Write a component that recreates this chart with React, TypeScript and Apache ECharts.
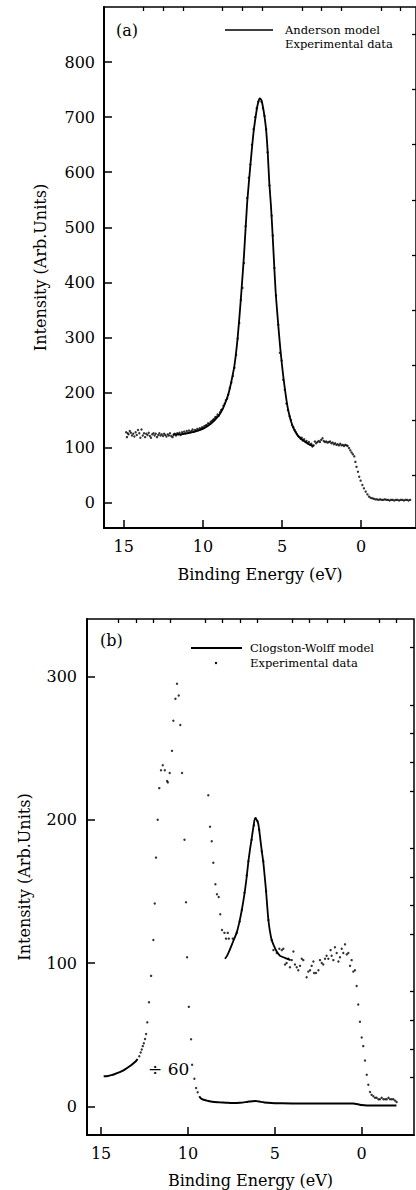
import React, { useEffect, useRef } from "react";
import * as echarts from "echarts";

const FONT = "DejaVu Serif";

// ---------- Panel (a) ----------
const aXMajor = [15, 10, 5, 0];
const aXMinor = [13.75, 12.5, 11.25, 8.75, 7.5, 6.25, 3.75, 2.5, 1.25, -1.25, -2.5];
const aYMajor = [0, 100, 200, 300, 400, 500, 600, 700, 800];
const aYMinor = [50, 150, 250, 350, 450, 550, 650, 750, 850];

const aModel: [number, number][] = [
  [11.9, 124], [11.5, 124], [11.0, 126], [10.5, 129], [10.0, 134], [9.5, 143], [9.0, 158], [8.8, 167],
  [8.6, 180], [8.4, 196], [8.2, 220], [8.0, 250], [7.8, 300], [7.6, 370], [7.4, 450], [7.2, 545],
  [7.0, 612], [6.8, 672], [6.6, 713], [6.5, 727], [6.4, 734], [6.3, 731], [6.2, 718], [6.1, 700],
  [6.0, 676], [5.9, 635], [5.8, 580], [5.7, 540], [5.6, 490], [5.5, 435], [5.4, 382], [5.3, 345],
  [5.2, 310], [5.1, 278], [5.0, 250], [4.9, 225], [4.8, 203], [4.7, 183], [4.6, 167], [4.5, 155],
  [4.4, 145], [4.3, 137], [4.2, 131], [4.0, 122], [3.8, 116], [3.6, 112], [3.4, 108], [3.2, 105], [3.0, 103],
];

const aExp: [number, number][] = [
  [14.85, 128], [14.8, 119], [14.75, 126], [14.7, 124], [14.62, 130], [14.55, 127], [14.48, 122], [14.4, 125],
  [14.33, 120], [14.25, 128], [14.18, 123], [14.1, 132], [14.02, 126], [13.95, 118], [13.88, 133], [13.8, 122],
  [13.72, 126], [13.65, 119], [13.58, 125], [13.5, 123], [13.42, 127], [13.35, 121], [13.28, 118], [13.2, 124],
  [13.12, 126], [13.05, 122], [12.98, 125], [12.9, 119], [12.82, 123], [12.75, 126], [12.68, 122], [12.6, 124],
  [12.52, 121], [12.45, 125], [12.38, 123], [12.3, 120], [12.22, 124], [12.15, 122], [12.08, 126], [12.0, 121],
  [11.92, 119], [11.85, 123], [11.78, 125], [11.7, 122], [11.62, 126], [11.55, 124], [11.48, 127], [11.4, 123],
  [11.32, 128], [11.25, 125], [11.18, 129], [11.1, 126], [11.02, 130], [10.95, 127], [10.88, 131], [10.8, 128],
  [10.72, 130], [10.65, 133], [10.58, 129], [10.5, 132], [10.42, 131], [10.35, 134], [10.27, 132], [10.2, 135],
  [10.12, 134], [10.05, 137], [9.97, 136], [9.9, 139], [9.82, 140], [9.75, 141], [9.67, 144], [9.6, 143],
  [9.52, 146], [9.45, 148], [9.37, 150], [9.3, 152], [9.22, 155], [9.15, 156], [9.07, 160], [9.0, 158],
  [8.92, 164], [8.85, 168], [8.77, 170], [8.7, 176], [8.62, 180], [8.55, 186], [8.47, 189], [8.4, 196],
  [8.3, 208], [8.2, 218], [8.1, 230], [8.0, 245], [7.9, 268], [7.8, 298], [7.7, 326], [7.6, 368],
  [7.5, 390], [7.4, 435], [7.3, 502], [7.2, 553], [7.1, 590], [7.0, 614], [6.9, 650], [6.8, 678],
  [6.7, 700], [6.6, 716], [6.5, 728], [6.41, 733], [6.3, 728], [6.2, 716], [6.1, 702], [6.0, 678],
  [5.91, 636], [5.79, 576], [5.65, 521], [5.58, 485], [5.48, 426], [5.38, 376], [5.23, 323], [5.13, 272],
  [5.02, 258], [4.92, 223], [4.82, 205], [4.72, 180], [4.62, 168], [4.52, 157], [4.44, 150], [4.36, 141],
  [4.28, 137], [4.2, 132], [4.12, 128], [4.05, 124], [3.98, 121], [3.9, 119], [3.82, 116], [3.75, 118],
  [3.68, 113], [3.6, 115], [3.52, 110], [3.45, 112], [3.38, 108], [3.3, 110], [3.22, 105], [3.15, 107],
  [3.08, 102], [3.0, 104], [2.92, 111], [2.84, 108], [2.76, 110], [2.68, 112], [2.6, 110], [2.52, 114],
  [2.44, 117], [2.36, 112], [2.28, 110], [2.2, 111], [2.12, 109], [2.04, 110], [1.96, 111], [1.88, 108],
  [1.8, 109], [1.72, 106], [1.64, 108], [1.56, 105], [1.48, 106], [1.4, 104], [1.32, 107], [1.24, 104],
  [1.16, 105], [1.08, 103], [1.0, 105], [0.92, 104], [0.85, 103], [0.76, 99], [0.68, 95], [0.6, 91],
  [0.52, 88], [0.43, 84], [0.36, 74], [0.29, 65], [0.2, 56], [0.12, 47], [0.03, 40], [-0.08, 32],
  [-0.18, 26], [-0.29, 20], [-0.4, 15], [-0.5, 11], [-0.6, 9], [-0.7, 8], [-0.8, 7], [-0.9, 6],
  [-1.0, 6], [-1.1, 5], [-1.2, 6], [-1.3, 5], [-1.4, 5], [-1.5, 6], [-1.6, 5], [-1.7, 5],
  [-1.8, 4], [-1.9, 5], [-2.0, 5], [-2.1, 4], [-2.2, 5], [-2.3, 5], [-2.4, 4], [-2.5, 5],
  [-2.6, 5], [-2.7, 4], [-2.8, 5], [-2.9, 5], [-3.0, 4], [-3.1, 5],
];

// ---------- Panel (b) ----------
const bXMajor = [15, 10, 5, 0];
const bXMinor = [14, 13, 12, 11, 9, 8, 7, 6, 4, 3, 2, 1, -1, -2];
const bYMajor = [0, 100, 200, 300];
const bYMinor = [20, 40, 60, 80, 120, 140, 160, 180, 220, 240, 260, 280, 320];

const bModel: [number, number][] = [
  [7.87, 103], [7.75, 105], [7.6, 109], [7.4, 115], [7.2, 121], [7.05, 128], [6.9, 137], [6.75, 148],
  [6.62, 160], [6.52, 171], [6.42, 180], [6.33, 187], [6.22, 196], [6.14, 201], [6.05, 200], [5.95, 197],
  [5.85, 188], [5.75, 178], [5.66, 170], [5.58, 160], [5.51, 151], [5.44, 140], [5.37, 130], [5.28, 122],
  [5.18, 116], [5.05, 112], [4.89, 108], [4.7, 105], [4.51, 104], [4.3, 103], [4.1, 102],
];

const bExp: [number, number][] = [
  [8.83, 217], [8.73, 195], [8.63, 185], [8.54, 170], [8.42, 155], [8.33, 148], [8.23, 146], [8.14, 134],
  [8.04, 123], [7.9, 121], [7.81, 117], [7.71, 121], [7.65, 117], [7.42, 117], [7.19, 121], [7.02, 129],
  [6.9, 137], [6.75, 149], [6.62, 161], [6.52, 171], [6.33, 186], [6.2, 196], [6.1, 201], [6.0, 199],
  [5.9, 193], [5.75, 178], [5.66, 171], [5.5, 150], [5.37, 130], [5.18, 116], [5.08, 109], [4.89, 107],
  [4.74, 110], [4.6, 109], [4.51, 110], [4.41, 99], [4.32, 100], [4.22, 103], [4.13, 97], [4.03, 102],
  [3.93, 108], [3.84, 99], [3.74, 97], [3.65, 95], [3.55, 98], [3.45, 103], [3.36, 102], [3.17, 90],
  [3.07, 94], [2.97, 95], [2.88, 98], [2.78, 101], [2.74, 93], [2.63, 93], [2.49, 95], [2.4, 102],
  [2.3, 100], [2.21, 99], [2.11, 103], [2.02, 105], [1.92, 103], [1.79, 109], [1.73, 105], [1.63, 102],
  [1.54, 111], [1.44, 107], [1.34, 101], [1.25, 104], [1.15, 110], [1.06, 107], [0.96, 113], [0.86, 106],
  [0.77, 107], [0.67, 98], [0.58, 102], [0.48, 94], [0.39, 95], [0.29, 84], [0.2, 71], [0.1, 59],
  [0.0, 48], [-0.09, 42], [-0.19, 32], [-0.29, 22], [-0.38, 15], [-0.48, 10], [-0.57, 8], [-0.67, 7],
  [-0.77, 6], [-0.86, 6], [-0.96, 5], [-1.05, 5], [-1.15, 6], [-1.25, 5], [-1.35, 5], [-1.44, 5],
  [-1.54, 6], [-1.63, 5], [-1.73, 5], [-1.82, 5], [-1.92, 4], [-2.01, 3],
];

// full spectrum divided by 60
const bDiv60Tail: [number, number][] = [
  [14.85, 21], [14.6, 21.2], [14.4, 21.8], [14.2, 22.6], [14.0, 23.5], [13.8, 24.6], [13.6, 26],
  [13.4, 27.6], [13.2, 29.4], [13.0, 31.5], [12.9, 33],
];
const bDiv60Peak: [number, number][] = [
  [12.8, 35], [12.72, 37.5], [12.66, 39.6], [12.6, 42], [12.54, 44], [12.47, 47], [12.41, 50.5],
  [12.34, 58.6], [12.24, 72.6], [12.12, 91], [11.99, 116], [11.91, 141.5], [11.84, 173.5], [11.74, 200],
  [11.65, 222], [11.55, 234.5], [11.45, 238], [11.33, 234.5], [11.2, 227], [11.16, 226], [11.05, 232.6],
  [10.92, 248], [10.84, 269], [10.72, 284.3], [10.63, 294.8], [10.53, 286.6], [10.44, 266], [10.34, 232.6],
  [10.2, 186], [10.11, 142.4], [10.05, 104], [9.95, 69.4], [9.82, 46.8], [9.76, 29], [9.63, 19.3],
  [9.53, 12.8], [9.44, 9.8],
];
const bDiv60Flat: [number, number][] = [
  [9.35, 7], [9.25, 5.5], [9.1, 4.6], [8.9, 4], [8.6, 3.2], [8.2, 2.8], [7.8, 2.5], [7.4, 2.3],
  [7.0, 2.5], [6.6, 3.1], [6.3, 3.6], [6.1, 3.7], [5.9, 3.3], [5.6, 2.7], [5.2, 2.3], [4.6, 2.1],
  [4.0, 2.0], [3.0, 2.0], [2.0, 2.0], [1.0, 2.0], [0.5, 1.9], [0.2, 1.4], [0.0, 0.9], [-0.3, 0.6],
  [-1.0, 0.5], [-2.0, 0.5],
];

const black = "#000";
const labelStyle = { fontFamily: FONT, fontSize: 16, color: black };

function mainAxis(gridIndex: number, min: number, max: number, major: number[], inverse: boolean, name: string, nameGap: number, margin: number, vertical: boolean) {
  return {
    type: "value",
    gridIndex,
    min,
    max,
    inverse,
    name,
    nameLocation: "middle",
    nameGap,
    nameRotate: vertical ? 90 : 0,
    nameTextStyle: { fontFamily: FONT, fontSize: 16, color: black },
    axisLine: { show: true, onZero: false, lineStyle: { color: black, width: 2 } },
    axisTick: { show: true, inside: true, length: 8, customValues: major, lineStyle: { color: black, width: 1.5 } },
    axisLabel: { show: true, customValues: major, margin, ...labelStyle },
    splitLine: { show: false },
  };
}
function minorAxis(gridIndex: number, min: number, max: number, minor: number[], inverse: boolean) {
  return {
    type: "value",
    gridIndex,
    min,
    max,
    inverse,
    axisLine: { show: false, onZero: false },
    axisTick: { show: true, inside: true, length: 4, customValues: minor, lineStyle: { color: black, width: 1.3 } },
    axisLabel: { show: false },
    splitLine: { show: false },
  };
}

const A_XMIN = -3.47, A_XMAX = 16.25, A_YMIN = -46, A_YMAX = 900;
const B_XMIN = -3.01, B_XMAX = 15.81, B_YMIN = -20, B_YMAX = 340;

function buildOption() {
  const text = (t: string, x: number, y: number, size: number) => ({
    type: "text",
    x,
    y,
    style: { text: t, fontFamily: FONT, fontSize: size, fill: black, verticalAlign: "middle", align: "left" },
  });
  return {
    animation: false,
    backgroundColor: "#fff",
    grid: [
      { left: 104, top: 7, width: 318, height: 521, show: true, borderColor: black, borderWidth: 1.5, containLabel: false },
      { left: 87, top: 619, width: 327, height: 516, show: true, borderColor: black, borderWidth: 1.5, containLabel: false },
    ],
    xAxis: [
      mainAxis(0, A_XMIN, A_XMAX, aXMajor, true, "Binding Energy (eV)", 38, 10, false),
      minorAxis(0, A_XMIN, A_XMAX, aXMinor, true),
      mainAxis(1, B_XMIN, B_XMAX, bXMajor, true, "Binding Energy (eV)", 37, 10, false),
      minorAxis(1, B_XMIN, B_XMAX, bXMinor, true),
    ],
    yAxis: [
      mainAxis(0, A_YMIN, A_YMAX, aYMajor, false, "Intensity (Arb.Units)", 56, 9, true),
      minorAxis(0, A_YMIN, A_YMAX, aYMinor, false),
      mainAxis(1, B_YMIN, B_YMAX, bYMajor, false, "Intensity (Arb.Units)", 55, 10, true),
      minorAxis(1, B_YMIN, B_YMAX, bYMinor, false),
    ],
    series: [
      {
        name: "Anderson model", type: "line", xAxisIndex: 0, yAxisIndex: 0, data: aModel,
        showSymbol: false, smooth: 0.2, lineStyle: { color: black, width: 1.8 }, z: 2,
      },
      {
        name: "Experimental data (a)", type: "scatter", xAxisIndex: 0, yAxisIndex: 0, data: aExp,
        symbol: "circle", symbolSize: 2.4, itemStyle: { color: black }, z: 3,
      },
      {
        name: "Clogston-Wolff model", type: "line", xAxisIndex: 2, yAxisIndex: 2, data: bModel,
        showSymbol: false, smooth: 0.2, lineStyle: { color: black, width: 1.8 }, z: 2,
      },
      {
        name: "Experimental data (b)", type: "scatter", xAxisIndex: 2, yAxisIndex: 2, data: bExp,
        symbol: "circle", symbolSize: 2.4, itemStyle: { color: black }, z: 3,
      },
      {
        name: "÷60 tail", type: "line", xAxisIndex: 2, yAxisIndex: 2, data: bDiv60Tail,
        showSymbol: false, smooth: 0.3, lineStyle: { color: black, width: 2 }, z: 2,
      },
      {
        name: "÷60 peak", type: "scatter", xAxisIndex: 2, yAxisIndex: 2, data: bDiv60Peak,
        symbol: "circle", symbolSize: 2.4, itemStyle: { color: black }, z: 3,
      },
      {
        name: "÷60 flat", type: "line", xAxisIndex: 2, yAxisIndex: 2, data: bDiv60Flat,
        showSymbol: false, smooth: 0.3, lineStyle: { color: black, width: 2 }, z: 2,
      },
    ],
    graphic: [
      text("(a)", 116, 30, 16),
      { type: "line", shape: { x1: 225, y1: 30, x2: 273, y2: 30 }, style: { stroke: black, lineWidth: 1.5 } },
      text("Anderson model", 285, 30, 11.5),
      text("Experimental data", 285, 44, 11.5),
      text("(b)", 100, 640, 16),
      { type: "line", shape: { x1: 191, y1: 648, x2: 242, y2: 648 }, style: { stroke: black, lineWidth: 2 } },
      text("Clogston-Wolff model", 250, 648, 11.5),
      text("Experimental data", 250, 663, 11.5),
      { type: "circle", shape: { cx: 216, cy: 663, r: 1.2 }, style: { fill: black } },
      text("÷ 60", 148, 1069, 17),
    ],
  };
}

export default function App() {
  const ref = useRef<HTMLDivElement>(null);
  useEffect(() => {
    if (!ref.current) return;
    const chart = echarts.init(ref.current, null, { renderer: "svg" });
    chart.setOption(buildOption() as any);
    return () => chart.dispose();
  }, []);
  return (
    <div
      ref={ref}
      style={{ position: "absolute", left: 0, top: 0, width: 416, height: 1190, overflow: "hidden", background: "#fff" }}
    />
  );
}
